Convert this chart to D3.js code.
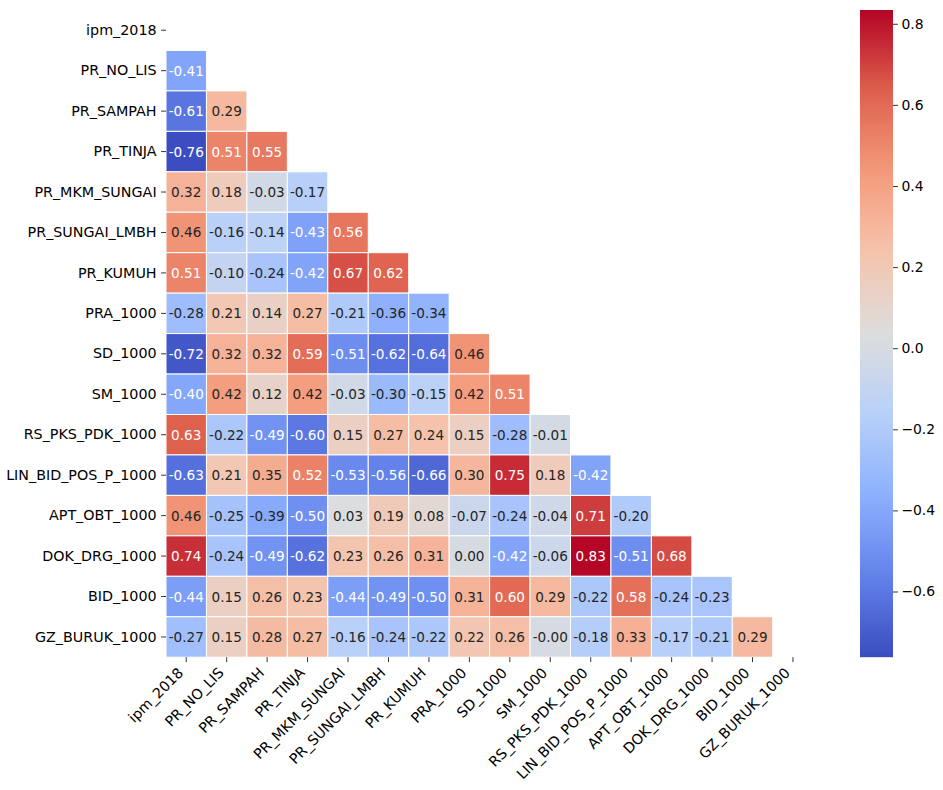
<!DOCTYPE html>
<html><head><meta charset="utf-8">
<script src="https://cdn.jsdelivr.net/npm/d3@7"></script>
<style>
body{margin:0;background:#fff;}
text{font-family:"DejaVu Sans",sans-serif;}
</style></head>
<body><svg id="chart" width="943" height="790"></svg>
<script>
const labels = ["ipm_2018","PR_NO_LIS","PR_SAMPAH","PR_TINJA","PR_MKM_SUNGAI","PR_SUNGAI_LMBH","PR_KUMUH","PRA_1000","SD_1000","SM_1000","RS_PKS_PDK_1000","LIN_BID_POS_P_1000","APT_OBT_1000","DOK_DRG_1000","BID_1000","GZ_BURUK_1000"];
// lower triangle values, row i has i entries (columns 0..i-1)
const lowerTriangle = [
  [],
  [-0.41],
  [-0.61, 0.29],
  [-0.76, 0.51, 0.55],
  [0.32, 0.18, -0.03, -0.17],
  [0.46, -0.16, -0.14, -0.43, 0.56],
  [0.51, -0.10, -0.24, -0.42, 0.67, 0.62],
  [-0.28, 0.21, 0.14, 0.27, -0.21, -0.36, -0.34],
  [-0.72, 0.32, 0.32, 0.59, -0.51, -0.62, -0.64, 0.46],
  [-0.40, 0.42, 0.12, 0.42, -0.03, -0.30, -0.15, 0.42, 0.51],
  [0.63, -0.22, -0.49, -0.60, 0.15, 0.27, 0.24, 0.15, -0.28, -0.01],
  [-0.63, 0.21, 0.35, 0.52, -0.53, -0.56, -0.66, 0.30, 0.75, 0.18, -0.42],
  [0.46, -0.25, -0.39, -0.50, 0.03, 0.19, 0.08, -0.07, -0.24, -0.04, 0.71, -0.20],
  [0.74, -0.24, -0.49, -0.62, 0.23, 0.26, 0.31, 0.00, -0.42, -0.06, 0.83, -0.51, 0.68],
  [-0.44, 0.15, 0.26, 0.23, -0.44, -0.49, -0.50, 0.31, 0.60, 0.29, -0.22, 0.58, -0.24, -0.23],
  [-0.27, 0.15, 0.28, 0.27, -0.16, -0.24, -0.22, 0.22, 0.26, -0.004, -0.18, 0.33, -0.17, -0.21, 0.29]
];
const colorbarTicks = [-0.6, -0.4, -0.2, 0.0, 0.2, 0.4, 0.6, 0.8];
const vmin = -0.762, vmax = 0.834;

// matplotlib coolwarm samples
const coolwarmStops = ["#3b4cc0","#6282ea","#8db0fe","#b8d0f9","#dddddd","#f5c4ad","#f49a7b","#de604d","#b40426"];
const cmap = d3.scaleLinear().domain(d3.range(coolwarmStops.length).map(i => i/(coolwarmStops.length-1)))
  .range(coolwarmStops).interpolate(d3.interpolateRgb);
const norm = d3.scaleLinear().domain([vmin, vmax]).range([0,1]).clamp(true);
const color = v => cmap(norm(v));

function relLum(c){
  const rgb = d3.rgb(c);
  const f = x => { x/=255; return x <= 0.03928 ? x/12.92 : Math.pow((x+0.055)/1.055, 2.4); };
  return 0.2126*f(rgb.r) + 0.7152*f(rgb.g) + 0.0722*f(rgb.b);
}

const svg = d3.select("#chart");
const x0 = 166, y0 = 10, size = 40.45*16;
const labelFont = "14.3px", annFont = "13.6px", cbFont = "13.9px";
const x = d3.scaleBand().domain(labels).range([x0, x0+size]);
const y = d3.scaleBand().domain(labels).range([y0, y0+size]);

const cells = [];
lowerTriangle.forEach((row,i) => row.forEach((v,j) => cells.push({r:labels[i], c:labels[j], v})));

const g = svg.append("g");
g.selectAll("rect.cell").data(cells).join("rect")
  .attr("x", d => x(d.c)).attr("y", d => y(d.r))
  .attr("width", x.bandwidth()).attr("height", y.bandwidth())
  .attr("fill", d => color(d.v)).attr("stroke", "#fff").attr("stroke-width", 1);

g.selectAll("text.ann").data(cells).join("text")
  .attr("x", d => x(d.c) + x.bandwidth()/2).attr("y", d => y(d.r) + y.bandwidth()/2)
  .attr("text-anchor", "middle").attr("dominant-baseline", "central")
  .attr("font-size", annFont)
  .attr("fill", d => relLum(color(d.v)) > 0.408 ? "#262626" : "#ffffff")
  .text(d => d.v.toFixed(2));

// Y axis
const yAxis = d3.axisLeft(y).tickSize(4.9).tickPadding(4.5);
const ya = svg.append("g").attr("transform", `translate(${x0},0)`).call(yAxis);
ya.select(".domain").remove();
ya.selectAll("text").attr("font-size",labelFont).attr("font-family","DejaVu Sans").attr("fill","#000");
ya.selectAll("line").attr("stroke","#000").attr("stroke-width",0.8);

// X axis
const xAxis = d3.axisBottom(x).tickSize(4.9).tickFormat("");
const xa = svg.append("g").attr("transform", `translate(0,${y0+size})`).call(xAxis);
xa.select(".domain").remove();
xa.selectAll("line").attr("stroke","#000").attr("stroke-width",0.8);
svg.append("g").selectAll("text").data(labels).join("text")
  .attr("transform", d => `translate(${x(d)+x.bandwidth()/2 - 2},${y0+size+16.5}) rotate(-45)`)
  .attr("text-anchor","end").attr("font-size",labelFont).attr("fill","#000")
  .text(d => d);

// Colorbar
const cbX = 860, cbW = 33;
const cbY = d3.scaleLinear().domain([vmin, vmax]).range([y0+size, y0]);
const defs = svg.append("defs");
const grad = defs.append("linearGradient").attr("id","cbgrad").attr("x1","0").attr("y1","1").attr("x2","0").attr("y2","0");
d3.range(0, 1.0001, 0.02).forEach(t => grad.append("stop").attr("offset", t).attr("stop-color", cmap(t)));
svg.append("rect").attr("x", cbX).attr("y", y0).attr("width", cbW).attr("height", size).attr("fill","url(#cbgrad)");
const cbAxis = d3.axisRight(cbY).tickValues(colorbarTicks).tickSize(4.9).tickPadding(3.5).tickFormat(d3.format(".1f"));
const ca = svg.append("g").attr("transform", `translate(${cbX+cbW},0)`).call(cbAxis);
ca.select(".domain").remove();
ca.selectAll("text").attr("font-size",cbFont).attr("font-family","DejaVu Sans").attr("fill","#000");
ca.selectAll("line").attr("stroke","#000").attr("stroke-width",0.8);
</script></body></html>
